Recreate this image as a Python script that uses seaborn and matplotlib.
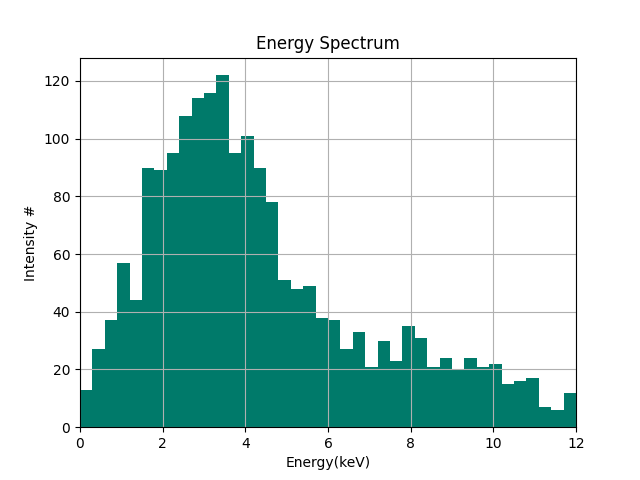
import numpy as np
import pandas as pd
import matplotlib
matplotlib.use("Agg")
import matplotlib.pyplot as plt
import seaborn as sns

counts = [13, 27, 37, 57, 44, 90, 89, 95, 108, 114, 116, 122, 95, 101, 90, 78,
          51, 48, 49, 38, 37, 27, 33, 21, 30, 23, 35, 31, 21, 24, 20, 24, 21, 22,
          15, 16, 17, 7, 6, 12]
e_min, e_max = 0.0, 12.0
n_bins = len(counts)
edges = np.linspace(e_min, e_max, n_bins + 1)
centers = (edges[:-1] + edges[1:]) / 2
df = pd.DataFrame({"energy": centers, "count": counts})

fig, ax = plt.subplots(figsize=(6.4, 4.8), dpi=100)
sns.histplot(data=df, x="energy", weights="count", bins=list(edges), ax=ax,
             color="#007a6a", alpha=1.0, linewidth=0)
ax.set_xlim(e_min, e_max)
ax.margins(y=0.05)
ax.autoscale(axis="y")
ax.grid(True, color="#b0b0b0")
ax.set_title("Energy Spectrum")
ax.set_xlabel("Energy(keV)")
ax.set_ylabel("Intensity #")
fig.savefig("out.png", dpi=100)
